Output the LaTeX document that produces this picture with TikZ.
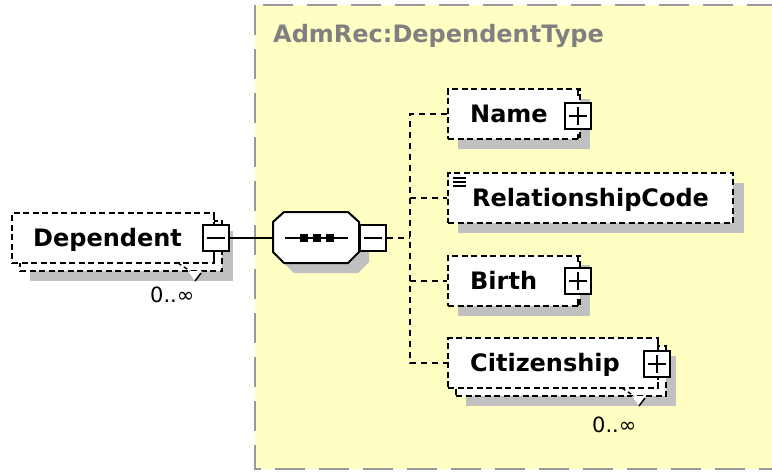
\documentclass[tikz,border=0pt]{standalone}
\usepackage{fontspec}
\setmainfont{DejaVu Sans}
\definecolor{yfill}{HTML}{FFFFC4}
\definecolor{ygray}{HTML}{9A9A9A}
\definecolor{shgray}{HTML}{C0C0C0}
\definecolor{tgray}{HTML}{808080}
\begin{document}
\begin{tikzpicture}[x=1pt,y=-1pt,
  ybox/.style={fill=yfill, draw=ygray, line width=2.5pt, dash pattern=on 30pt off 14pt},
  elbox/.style={draw=black, fill=white, line width=2pt, dash pattern=on 6pt off 3.5pt, inner sep=0pt, minimum height=50pt},
  pmbox/.style={draw=black, fill=white, line width=2pt, solid, minimum width=26pt, minimum height=26pt, inner sep=0pt},
  pmline/.style={line width=2pt},
  lbl/.style={font=\fontsize{24}{28}\selectfont\bfseries, anchor=base west, inner sep=0pt},
  card/.style={font=\fontsize{21}{24}\selectfont, anchor=base west, inner sep=0pt},
  conn/.style={line width=2pt, dash pattern=on 6pt off 5pt},
  sh/.style={fill=shgray, draw=none}
]
\useasboundingbox (0,0) rectangle (772,472);
\clip (0,0) rectangle (772,472);
\fill[white] (0,0) rectangle (772,472);

% type box
\draw[ybox] (255,5) rectangle (800,469);
\node[lbl, text=tgray] (title) at (273,42) {AdmRec:DependentType};

% ---- Dependent (multiple) ----
\fill[sh] (30,231) rectangle (233,281);
\node[elbox, minimum width=202pt] (depB) at (121,246) {};
\node[elbox, minimum width=202pt] (dep) at (113,238) {};
\fill[white] (188,271) -- (202,271) -- (195,281) -- cycle;
\draw[line width=1.5pt, dash pattern=on 4pt off 3pt] (178,263) -- (190,271);
\draw[line width=1.5pt] (195,281) -- (201,273);
\draw[pmline] (214,213) -- (214,220) (214,256) -- (214,263);
\node[lbl] (depT) at (33,246) {Dependent};
\node[pmbox] (depM) at (216,238) {};
\draw[pmline] ([xshift=-9pt]depM.center) -- ([xshift=9pt]depM.center);
\node[card] (depC) at (150,302) {0..∞};

% ---- sequence ----
\fill[sh] (283,232) -- (294,222) -- (358,222) -- (369,232) -- (369,262) -- (358,273) -- (294,273) -- (283,262) -- cycle;
\draw[line width=2pt, fill=white] (273,222) -- (284,212) -- (348,212) -- (359,222) -- (359,252) -- (348,263) -- (284,263) -- (273,252) -- cycle;
\coordinate (seqW) at (273,238);
\coordinate (seqC) at (316,238);
\draw[line width=2pt] ([xshift=-31pt]seqC) -- ([xshift=32pt]seqC);
\foreach \dx in {-12.5,0.5,13.5} \fill ([xshift=\dx pt]seqC) +(-4,-4) rectangle +(4,4);
\node[pmbox] (seqM) at (373,238) {};
\draw[pmline] ([xshift=-9pt]seqM.center) -- ([xshift=9pt]seqM.center);

\draw[line width=2pt] (depM.east) -- (seqW);
\coordinate (j) at (410,238);
\draw[conn] (seqM.east) -- (j);

% ---- Name ----
\fill[sh] (458,99) rectangle (590,149);
\node[elbox, minimum width=132pt] (name) at (514,114) {};
\draw[pmline] (578,89) -- (578,96) (578,134) -- (578,139);
\node[lbl] (nameT) at (470,122) {Name};
\node[pmbox] (nameP) at (578,115.5) {};
\draw[pmline] ([xshift=-9pt]nameP.center) -- ([xshift=9pt]nameP.center)
              ([yshift=-9pt]nameP.center) -- ([yshift=9pt]nameP.center);

% ---- RelationshipCode ----
\fill[sh] (458,183) rectangle (744,233);
\node[elbox, minimum width=285pt] (rel) at (590.5,198) {};
\node[lbl] (relT) at (472,206) {RelationshipCode};
\draw[line width=1.5pt] (453,178) -- (466,178) (453,182) -- (466,182) (453,186) -- (466,186);

% ---- Birth ----
\fill[sh] (458,265) rectangle (590,316);
\node[elbox, minimum width=132pt] (birth) at (514,280.5) {};
\draw[pmline] (578,255) -- (578,262) (578,299) -- (578,306);
\node[lbl] (birthT) at (470,289) {Birth};
\node[pmbox] (birthP) at (578,280.5) {};
\draw[pmline] ([xshift=-9pt]birthP.center) -- ([xshift=9pt]birthP.center)
              ([yshift=-9pt]birthP.center) -- ([yshift=9pt]birthP.center);

% ---- Citizenship (multiple) ----
\fill[sh] (466,356) rectangle (676,406);
\node[elbox, minimum width=210pt] (citB) at (561,371) {};
\node[elbox, minimum width=210pt] (cit) at (553,363) {};
\fill[white] (632,396) -- (646,396) -- (639,406) -- cycle;
\draw[line width=1.5pt, dash pattern=on 4pt off 3pt] (622,388) -- (634,396);
\draw[line width=1.5pt] (639,406) -- (645,398);
\draw[pmline] (658,338) -- (658,345) (658,382) -- (658,388);
\node[lbl] (citT) at (470,371) {Citizenship};
\node[pmbox] (citP) at (657,363.5) {};
\draw[pmline] ([xshift=-9pt]citP.center) -- ([xshift=9pt]citP.center)
              ([yshift=-9pt]citP.center) -- ([yshift=9pt]citP.center);
\node[card] (citC) at (592,432) {0..∞};

% ---- connectors ----
\draw[conn] (name.west) -- (name.west -| j) -- (cit.west -| j) -- (cit.west);
\draw[conn] (rel.west -| j) -- (rel.west);
\draw[conn] (birth.west -| j) -- (birth.west);
\end{tikzpicture}
\end{document}
